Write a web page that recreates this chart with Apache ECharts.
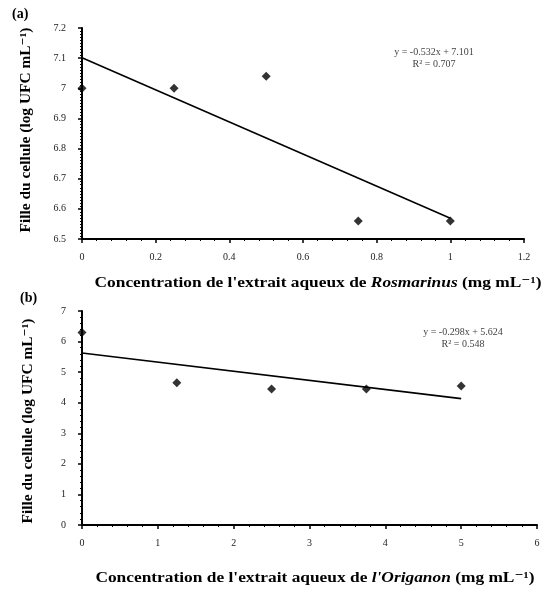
<!DOCTYPE html>
<html>
<head>
<meta charset="utf-8">
<script src="https://cdn.jsdelivr.net/npm/echarts@6/dist/echarts.min.js"></script>
<style>
  html, body { margin: 0; padding: 0; background: #fff; }
  #chart { width: 545px; height: 590px; }
</style>
</head>
<body>
<div id="chart"></div>
<script>
// Panel (a): Rosmarinus aqueous extract
var rosConc = [0, 0.25, 0.5, 0.75, 1];
var rosLog = [7.0, 7.0, 7.04, 6.56, 6.56];
var rosSlope = -0.532, rosIntercept = 7.101, rosR2 = 0.707;
var rosYTicks = ['6.5', '6.6', '6.7', '6.8', '6.9', '7', '7.1', '7.2'];
var rosXTicks = ['0', '0.2', '0.4', '0.6', '0.8', '1', '1.2'];

// Panel (b): Origanon aqueous extract
var oriConc = [0, 1.25, 2.5, 3.75, 5];
var oriLog = [6.3, 4.65, 4.45, 4.45, 4.55];
var oriSlope = -0.298, oriIntercept = 5.624, oriR2 = 0.548;
var oriYTicks = ['0', '1', '2', '3', '4', '5', '6', '7'];
var oriXTicks = ['0', '1', '2', '3', '4', '5', '6'];

var FONT = '"Liberation Serif", "DejaVu Serif", serif';

function pairs(xs, ys) { return xs.map(function (x, i) { return [x, ys[i]]; }); }
function fitLine(xs, m, b) {
  var x0 = Math.min.apply(null, xs), x1 = Math.max.apply(null, xs);
  return [[x0, m * x0 + b], [x1, m * x1 + b]];
}
function eqText(m, b, r2) {
  var sign = b >= 0 ? ' + ' : ' - ';
  return 'y = ' + m.toFixed(3) + 'x' + sign + Math.abs(b).toFixed(3) + '\nR² = ' + r2.toFixed(3);
}
function labelFrom(list, step, min) {
  return function (v) {
    var i = Math.round((v - min) / step);
    return list[i] !== undefined ? list[i] : '';
  };
}

function xAxisCfg(gi, min, max, step, ticks, splits) {
  return {
    gridIndex: gi, type: 'value', min: min, max: max, interval: step,
    axisLine: { show: true, onZero: false, lineStyle: { color: '#000', width: 2 } },
    axisTick: { show: true, length: 4, lineStyle: { color: '#000', width: 1.5 } },
    minorTick: { show: true, splitNumber: splits, length: 2, lineStyle: { color: '#000', width: 1 } },
    splitLine: { show: false },
    axisLabel: { margin: 13, color: '#222', fontFamily: FONT, fontSize: 10,
      formatter: labelFrom(ticks, step, min), showMaxLabel: true, showMinLabel: true }
  };
}
function yAxisCfg(gi, min, max, step, ticks, splits) {
  return {
    gridIndex: gi, type: 'value', min: min, max: max, interval: step,
    axisLine: { show: true, onZero: false, lineStyle: { color: '#000', width: 2 } },
    axisTick: { show: true, length: 4, lineStyle: { color: '#000', width: 1.5 } },
    minorTick: { show: true, splitNumber: splits, length: 2, lineStyle: { color: '#000', width: 1 } },
    splitLine: { show: false },
    axisLabel: { margin: 16, color: '#222', fontFamily: FONT, fontSize: 10,
      formatter: labelFrom(ticks, step, min) }
  };
}

function xTitle(x, y, latin) {
  return { type: 'text', x: x, y: y, scaleX: 1.24,
    style: {
      text: '{b|Concentration de l\'extrait aqueux de }{i|' + latin + '}{b| (mg mL⁻¹)}',
      align: 'center', verticalAlign: 'middle',
      rich: {
        b: { font: 'bold 14px ' + FONT, fill: '#000' },
        i: { font: 'italic bold 14px ' + FONT, fill: '#000' }
      }
    } };
}
function yTitle(x, y) {
  return { type: 'text', x: x, y: y, rotation: Math.PI / 2, scaleX: 1.1,
    style: { text: 'Fille du cellule (log UFC mL⁻¹)', font: 'bold 14px ' + FONT, fill: '#000',
      align: 'center', verticalAlign: 'middle' } };
}

var chart = echarts.init(document.getElementById('chart'), null, { renderer: 'canvas' });
chart.setOption({
  backgroundColor: '#fff',
  animation: false,
  grid: [
    { left: 82, top: 28, width: 442, height: 211 },
    { left: 82, top: 311, width: 455, height: 214 }
  ],
  xAxis: [
    xAxisCfg(0, 0, 1.2, 0.2, rosXTicks, 5),
    xAxisCfg(1, 0, 6, 1, oriXTicks, 5)
  ],
  yAxis: [
    yAxisCfg(0, 6.5, 7.2, 0.1, rosYTicks, 10),
    yAxisCfg(1, 0, 7, 1, oriYTicks, 5)
  ],
  series: [
    {
      type: 'line', xAxisIndex: 0, yAxisIndex: 0, data: fitLine(rosConc, rosSlope, rosIntercept),
      showSymbol: false, lineStyle: { color: '#000', width: 1.6 }, z: 2
    },
    {
      type: 'scatter', xAxisIndex: 0, yAxisIndex: 0, data: pairs(rosConc, rosLog),
      symbol: 'diamond', symbolSize: 9, itemStyle: { color: '#000' }, z: 3
    },
    {
      type: 'line', xAxisIndex: 1, yAxisIndex: 1, data: fitLine(oriConc, oriSlope, oriIntercept),
      showSymbol: false, lineStyle: { color: '#000', width: 1.6 }, z: 2
    },
    {
      type: 'scatter', xAxisIndex: 1, yAxisIndex: 1, data: pairs(oriConc, oriLog),
      symbol: 'diamond', symbolSize: 9, itemStyle: { color: '#000' }, z: 3
    }
  ],
  graphic: [
    // panel tags
    { type: 'text', left: 12, top: 7, style: { text: '(a)', font: 'bold 14px ' + FONT, fill: '#000' } },
    { type: 'text', left: 20, top: 291, style: { text: '(b)', font: 'bold 14px ' + FONT, fill: '#000' } },
    // regression equations
    { type: 'text', x: 434, y: 58, style: { text: eqText(rosSlope, rosIntercept, rosR2),
      font: '10px ' + FONT, fill: '#444', align: 'center', verticalAlign: 'middle', lineHeight: 12 } },
    { type: 'text', x: 463, y: 338, style: { text: eqText(oriSlope, oriIntercept, oriR2),
      font: '10px ' + FONT, fill: '#444', align: 'center', verticalAlign: 'middle', lineHeight: 12 } },
    // axis titles
    yTitle(26, 130),
    yTitle(28, 421),
    xTitle(318, 283, 'Rosmarinus'),
    xTitle(315, 578, 'l\'Origanon')
  ]
});
</script>
</body>
</html>
